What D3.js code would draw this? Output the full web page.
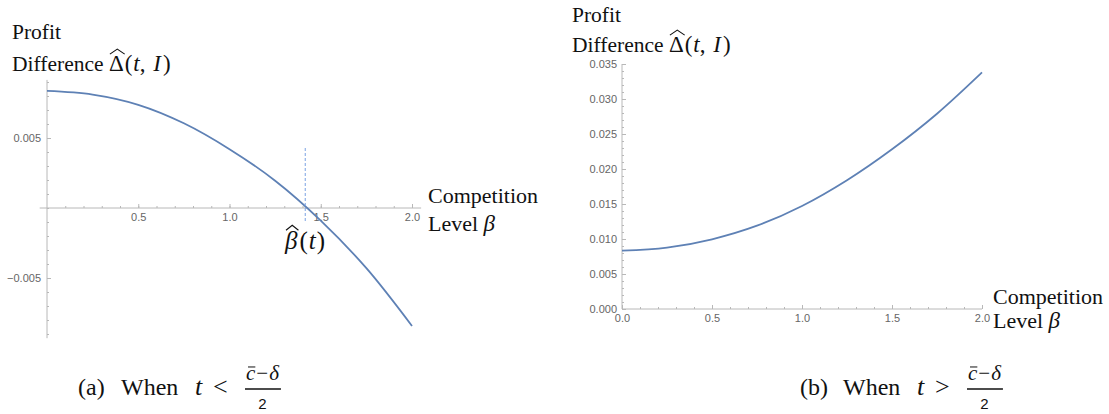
<!DOCTYPE html>
<html>
<head>
<meta charset="utf-8">
<script src="https://cdn.jsdelivr.net/npm/d3@7"></script>
<style>body{margin:0;background:#fff} text{white-space:pre}</style>
</head>
<body>
<svg id="mainSvg" width="1109" height="414"></svg>
<script>
// values
var betaValues = [0, 0.25, 0.5, 0.75, 1.0, 1.25, 1.5, 1.75, 2.0];
var diffLowT = [0.00836, 0.0081, 0.00737, 0.00605, 0.0042, 0.00195, -0.0009, -0.0043, -0.00843];
var diffHighT = [0.00833, 0.00876, 0.00996, 0.0119, 0.01472, 0.0184, 0.02282, 0.0279, 0.0338];
var betaHat = 1.415;
var lowTicksX = [0.5, 1.0, 1.5, 2.0];
var lowTicksY = [-0.005, 0.005];
var highTicksX = [0, 0.5, 1.0, 1.5, 2.0];
var highTicksY = [0, 0.005, 0.01, 0.015, 0.02, 0.025, 0.03, 0.035];

var svg = d3.select("#mainSvg");
var serif = "'Liberation Serif', 'Times New Roman', serif";
var sans = "'Liberation Sans', Arial, sans-serif";
var axisCol = "#b8b8b8", labelCol = "#666", lineCol = "#5e81b5";

// writes a row of text pieces, with optional hat / bar over a piece
function writeMath(x, y, parts, size)
{
	var cx = x;
	parts.forEach(function(p) {
		var s = p.size || size;
		if(p.at !== undefined) cx = x + p.at;
		cx += p.dx || 0;
		var t = svg.append("text").attr("x", cx).attr("y", y).attr("xml:space", "preserve")
			.style("font-family", p.family || serif).style("font-size", s + "px")
			.style("font-style", p.italic ? "italic" : "normal").attr("fill", "#111").text(p.text);
		var w = t.node().getComputedTextLength();
		if(p.hat)
		{
			var top = y - s * 0.95;
			svg.append("path").attr("d", "M" + (cx + 1) + "," + (top + 5) + "L" + (cx + w / 2 + 1) + "," + top + "L" + (cx + w + 1) + "," + (top + 5))
				.attr("fill", "none").attr("stroke", "#111").attr("stroke-width", 1.1);
		}
		if(p.bar)
		{
			var by = y - s * 0.62;
			svg.append("line").attr("x1", cx + 2).attr("x2", cx + w).attr("y1", by).attr("y2", by)
				.attr("stroke", "#111").attr("stroke-width", 1);
		}
		cx += w + (p.after || 0);
	});
	return cx;
}

function styleAxis(g)
{
	g.select(".domain").remove();
	g.selectAll(".tick line").attr("stroke", axisCol);
	g.selectAll(".tick text").attr("fill", labelCol).style("font-family", sans).style("font-size", "11px");
}

function drawPanel(cfg)
{
	var x = d3.scaleLinear().domain([0, 2]).range(cfg.xRange);
	var y = d3.scaleLinear().domain(cfg.yDomain).range(cfg.yRange);
	var x0 = x(0), y0 = y(0);

	// axis lines
	svg.append("line").attr("x1", x(cfg.xExt[0])).attr("x2", x(cfg.xExt[1])).attr("y1", y0).attr("y2", y0)
		.attr("stroke", axisCol).attr("stroke-width", 1);
	svg.append("line").attr("x1", x0).attr("x2", x0).attr("y1", y(cfg.yExt[0])).attr("y2", y(cfg.yExt[1]))
		.attr("stroke", axisCol).attr("stroke-width", 1);

	// minor ticks
	svg.append("g").attr("transform", "translate(0," + y0 + ")")
		.call(d3.axisBottom(x).tickValues(d3.range(1, 21).map(function(i) { return i / 10; })).tickSize(-2).tickFormat(""))
		.call(styleAxis);
	svg.append("g").attr("transform", "translate(" + x0 + ",0)")
		.call(d3.axisLeft(y).tickValues(cfg.yMinor).tickSize(-2).tickFormat(""))
		.call(styleAxis);

	// major ticks with labels
	svg.append("g").attr("transform", "translate(0," + y0 + ")")
		.call(d3.axisBottom(x).tickValues(cfg.xTicks).tickSize(-4).tickPadding(5).tickFormat(d3.format(".1f")))
		.call(styleAxis);
	svg.append("g").attr("transform", "translate(" + x0 + ",0)")
		.call(d3.axisLeft(y).tickValues(cfg.yTicks).tickSize(-4).tickPadding(cfg.yPad).tickFormat(d3.format(".3f")))
		.call(styleAxis);

	var line = d3.line().x(function(d) { return x(d[0]); }).y(function(d) { return y(d[1]); }).curve(d3.curveCatmullRom);
	svg.append("path").datum(d3.zip(betaValues, cfg.values)).attr("d", line)
		.attr("fill", "none").attr("stroke", lineCol).attr("stroke-width", 1.8);
	return {x: x, y: y};
}

var low = drawPanel({
	xRange: [47, 412], yDomain: [-0.005, 0.005], yRange: [278, 138],
	xExt: [-0.04, 2.05], yExt: [0.00915, -0.0093],
	xTicks: lowTicksX, yTicks: lowTicksY,
	yMinor: d3.range(-9, 10).map(function(i) { return i / 1000; }),
	yPad: 6, values: diffLowT
});
var high = drawPanel({
	xRange: [622, 982], yDomain: [0, 0.035], yRange: [309, 64],
	xExt: [0, 2], yExt: [0.035, 0],
	xTicks: highTicksX, yTicks: highTicksY,
	yMinor: d3.range(1, 36).map(function(i) { return i / 1000; }),
	yPad: 5, values: diffHighT
});

// dashed marker at beta hat
svg.append("line").attr("x1", low.x(betaHat)).attr("x2", low.x(betaHat)).attr("y1", 148).attr("y2", 222)
	.attr("stroke", "#7aa2e3").attr("stroke-width", 1).attr("stroke-dasharray", "3,2");
writeMath(285, 249, [{text: "β", italic: true, hat: true, after: 2}, {text: "("}, {text: "t", italic: true, dx: 1, after: 1}, {text: ")"}], 25);

// axis titles
function axisTitles(px, py1, py2, cx, cy1, cy2)
{
	writeMath(px, py1, [{text: "Profit"}], 21.5);
	writeMath(px, py2, [{text: "Difference "}, {text: "Δ", hat: true, size: 23, after: 1}, {text: "(", size: 23}, {text: "t", italic: true, size: 23, dx: 1}, {text: ", ", size: 23, after: 2}, {text: "I", italic: true, size: 23, after: 2}, {text: ")", size: 23}], 21.5);
	writeMath(cx, cy1, [{text: "Competition"}], 22);
	writeMath(cx, cy2, [{text: "Level "}, {text: "β", italic: true, size: 23}], 22);
}
axisTitles(12, 39, 71, 428, 203, 231);
axisTitles(572, 22, 52, 993, 304, 328);

// captions
function caption(x, label, rel)
{
	writeMath(x, 395, [{text: label}, {text: "When", at: 43}, {text: "t", italic: true, size: 26, at: 117}, {text: rel, size: 26, at: 135}], 24);
	var fx = x + 168;
	var end = writeMath(fx, 380, [{text: "c", italic: true, bar: true, size: 21}, {text: "−", size: 21, dx: 1, after: 1}, {text: "δ", italic: true, size: 21}], 21);
	svg.append("line").attr("x1", fx - 1).attr("x2", end + 2).attr("y1", 389).attr("y2", 389)
		.attr("stroke", "#111").attr("stroke-width", 1.6);
	svg.append("text").attr("x", (fx + end) / 2).attr("y", 409).attr("text-anchor", "middle")
		.style("font-family", sans).style("font-size", "15px").attr("fill", "#111").text("2");
}
caption(78, "(a)", "<");
caption(800, "(b)", ">");
</script>
</body>
</html>
